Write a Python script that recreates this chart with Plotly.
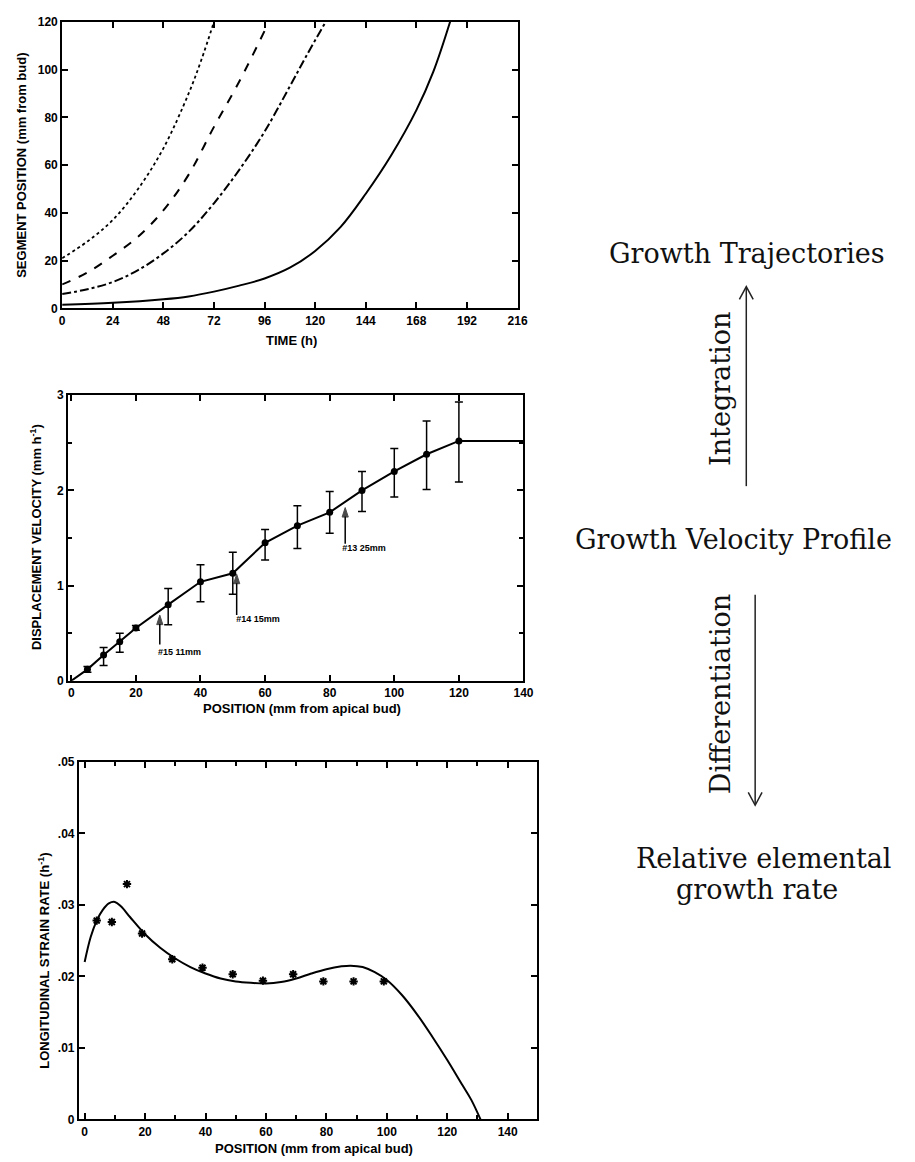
import plotly.graph_objects as go

W, H = 915, 1162

# ---------------- data ----------------
# Top: growth trajectories (segment position vs time)
traj_solid_t = [0, 24, 48, 60, 72, 84, 96, 108, 120, 132, 144, 156, 168, 176, 184]
traj_solid_y = [1.5, 2.3, 3.8, 5, 7, 9.5, 12.5, 17, 24, 34, 48, 64, 83, 99, 120]
traj_dashdot_t = [0, 12, 24, 36, 48, 60, 72, 84, 96, 108, 116, 125]
traj_dashdot_y = [6, 8, 11, 16, 23, 32, 44, 58, 74, 93, 106, 120]
traj_dash_t = [0, 12, 24, 36, 48, 60, 72, 84, 97]
traj_dash_y = [10, 15, 22, 30, 41, 56, 76, 95, 118]
traj_dot_t = [0, 12, 24, 36, 48, 60, 66, 72]
traj_dot_y = [21, 28, 37, 50, 67, 90, 104, 120]
time_ticks = [0, 24, 48, 72, 96, 120, 144, 168, 192, 216]
pos_ticks = [0, 20, 40, 60, 80, 100, 120]

# Middle: displacement velocity profile
vel_x = [5, 10, 15, 20, 30, 40, 50, 60, 70, 80, 90, 100, 110, 120]
vel_y = [0.12, 0.27, 0.41, 0.555, 0.80, 1.04, 1.13, 1.45, 1.63, 1.77, 2.00, 2.20, 2.38, 2.52]
vel_hi = [0.15, 0.35, 0.50, 0.58, 0.97, 1.22, 1.35, 1.59, 1.84, 1.99, 2.20, 2.44, 2.73, 2.93]
vel_lo = [0.09, 0.16, 0.30, 0.53, 0.59, 0.83, 0.91, 1.27, 1.39, 1.55, 1.78, 1.93, 2.01, 2.09]
vel_start = (0, 0)
vel_end_x = 140
vel_plateau = 2.52
node_labels = ["#15 11mm", "#14 15mm", "#13 25mm"]
node_x = [27.4, 51.2, 84.8]
node_tip = [0.69, 1.12, 1.82]
node_tail = [0.38, 0.69, 1.44]
node_label_x = [33.5, 57.8, 90.6]
node_label_y = [0.29, 0.64, 1.39]

# Bottom: relative elemental growth rate
strain_curve_x = [0, 2, 4, 6, 8, 10, 12, 15, 20, 25, 30, 35, 40, 45, 50, 55, 60, 65, 70,
                  75, 80, 85, 88, 92, 96, 100, 105, 110, 115, 120, 125, 128, 131]
strain_curve_y = [0.022, 0.0255, 0.0278, 0.0293, 0.0302, 0.0304, 0.0298, 0.0283, 0.0259,
                  0.0240, 0.0225, 0.0213, 0.0204, 0.0197, 0.0193, 0.0191, 0.0190, 0.0192,
                  0.0197, 0.0204, 0.0210, 0.0214, 0.0215, 0.0213, 0.0206, 0.0195, 0.0174,
                  0.0147, 0.0116, 0.0083, 0.0048, 0.0027, 0.0]
strain_pts_x = [4, 9, 14, 19, 29, 39, 49, 59, 69, 79, 89, 99]
strain_pts_y = [0.0278, 0.0276, 0.0329, 0.0260, 0.0224, 0.0212, 0.0203, 0.0194, 0.0203,
                0.0193, 0.0193, 0.0193]
strain_ticks = [0, 0.01, 0.02, 0.03, 0.04, 0.05]
strain_ticktext = ["0", ".01", ".02", ".03", ".04", ".05"]
position_ticks = [0, 20, 40, 60, 80, 100, 120, 140]

# ---------------- helpers ----------------
def px(x):
    return x / W

def py(y):
    return 1 - y / H

tickfont = dict(family="Liberation Sans", size=12, color="black", weight="bold")
titlefont = dict(family="Liberation Sans", size=13, color="black", weight="bold")

def axis(**kw):
    d = dict(showline=True, linecolor="black", linewidth=2, mirror="ticks",
             ticks="inside", ticklen=6, tickwidth=1.5, tickcolor="black",
             showgrid=False, zeroline=False, tickfont=tickfont, fixedrange=True)
    d.update(kw)
    return d

fig = go.Figure()

# Top traces
line_style = dict(color="black", width=2)
fig.add_trace(go.Scatter(x=traj_dot_t, y=traj_dot_y, mode="lines", line_shape="spline",
                         line=dict(color="black", width=1.8, dash="dot"), xaxis="x", yaxis="y"))
fig.add_trace(go.Scatter(x=traj_dash_t, y=traj_dash_y, mode="lines", line_shape="spline",
                         line=dict(color="black", width=2, dash="dash"), xaxis="x", yaxis="y"))
fig.add_trace(go.Scatter(x=traj_dashdot_t, y=traj_dashdot_y, mode="lines", line_shape="spline",
                         line=dict(color="black", width=2, dash="dashdot"), xaxis="x", yaxis="y"))
fig.add_trace(go.Scatter(x=traj_solid_t, y=traj_solid_y, mode="lines", line_shape="spline",
                         line=line_style, xaxis="x", yaxis="y"))

# Middle traces
fig.add_trace(go.Scatter(x=[vel_start[0]] + vel_x + [vel_end_x],
                         y=[vel_start[1]] + vel_y + [vel_plateau],
                         mode="lines", line=line_style, xaxis="x2", yaxis="y2"))
fig.add_trace(go.Scatter(x=vel_x, y=vel_y, mode="markers",
                         marker=dict(color="black", size=7),
                         error_y=dict(type="data", symmetric=False,
                                      array=[h - v for h, v in zip(vel_hi, vel_y)],
                                      arrayminus=[v - l for v, l in zip(vel_y, vel_lo)],
                                      color="black", thickness=1.5, width=4),
                         xaxis="x2", yaxis="y2"))
# node arrows (line + arrowhead marker at tip)
for nx, tip, tail in zip(node_x, node_tip, node_tail):
    fig.add_trace(go.Scatter(x=[nx, nx], y=[tail, tip], mode="lines+markers",
                             line=dict(color="black", width=1.5),
                             marker=dict(symbol=["circle", "arrow"], size=[0, 10],
                                         angleref="previous", color="black",
                                         line=dict(color="black", width=1)),
                             xaxis="x2", yaxis="y2"))
fig.add_trace(go.Scatter(x=node_label_x, y=node_label_y, mode="text", text=node_labels,
                         textfont=dict(family="Liberation Sans", size=9, color="black",
                                       weight="bold"),
                         xaxis="x2", yaxis="y2"))

# Bottom traces
fig.add_trace(go.Scatter(x=strain_curve_x, y=strain_curve_y, mode="lines", line_shape="spline",
                         line=line_style, xaxis="x3", yaxis="y3"))
fig.add_trace(go.Scatter(x=strain_pts_x, y=strain_pts_y, mode="markers",
                         marker=dict(symbol="asterisk", size=7, color="black",
                                     line=dict(color="black", width=2)),
                         xaxis="x3", yaxis="y3"))

annotations = []
# axis titles
annotations += [
    dict(text="SEGMENT POSITION (mm from bud)", x=px(18), y=py(160), textangle=-90),
    dict(text="TIME (h)", x=px(293), y=py(338)),
    dict(text="DISPLACEMENT VELOCITY (mm h<sup>-1</sup>)", x=px(33), y=py(537), textangle=-90),
    dict(text="POSITION (mm from apical bud)", x=px(303), y=py(710)),
    dict(text="LONGITUDINAL STRAIN RATE (h<sup>-1</sup>)", x=px(42), y=py(965), textangle=-90),
    dict(text="POSITION (mm from apical bud)", x=px(315), y=py(1155)),
]
for a in annotations:
    a.update(xref="paper", yref="paper", showarrow=False, font=titlefont,
             xanchor="center", yanchor="middle")

# right-hand schematic text
serif = dict(family="DejaVu Serif", size=27, color="#111")
right_text = [
    ("Growth Trajectories", 755, 250, 0),
    ("Integration", 728, 387, -90),
    ("Growth Velocity Profile", 741, 539, 0),
    ("Differentiation", 728, 696, -90),
    ("Relative elemental", 772, 862, 0),
    ("growth rate", 765, 893, 0),
]
for t, x, y, ang in right_text:
    annotations.append(dict(text=t, x=px(x), y=py(y), xref="paper", yref="paper",
                            showarrow=False, font=serif, textangle=ang,
                            xanchor="center", yanchor="middle"))

shapes = []
# up arrow (Integration)
shapes.append(dict(type="line", xref="paper", yref="paper", x0=px(754), x1=px(754),
                   y0=py(485), y1=py(284), line=dict(color="#222", width=1.5)))
shapes.append(dict(type="path", xref="paper", yref="paper",
                   path=f"M {px(747)} {py(296)} L {px(754)} {py(283)} L {px(761)} {py(296)}",
                   line=dict(color="#222", width=1.5)))
# down arrow (Differentiation)
shapes.append(dict(type="line", xref="paper", yref="paper", x0=px(763), x1=px(763),
                   y0=py(595), y1=py(807), line=dict(color="#222", width=1.5)))
shapes.append(dict(type="path", xref="paper", yref="paper",
                   path=f"M {px(756)} {py(795)} L {px(763)} {py(808)} L {px(770)} {py(795)}",
                   line=dict(color="#222", width=1.5)))

fig.update_layout(
    width=W, height=H, autosize=False,
    margin=dict(l=0, r=0, t=0, b=0),
    paper_bgcolor="white", plot_bgcolor="white",
    showlegend=False,
    xaxis=axis(domain=[px(60), px(522)], range=[0, 216], tickvals=time_ticks, anchor="y"),
    yaxis=axis(domain=[py(305), py(15)], range=[0, 120], tickvals=pos_ticks, anchor="x"),
    xaxis2=axis(domain=[px(66), px(528)], range=[-1, 140], tickvals=position_ticks,
                anchor="y2", ticklabelstandoff=0),
    yaxis2=axis(domain=[py(682), py(393)], range=[0, 3], tickvals=[0, 1, 2, 3], anchor="x2",
                minor=dict(dtick=0.5, ticks="inside", ticklen=4, tickcolor="black")),
    xaxis3=axis(domain=[px(77), px(542)], range=[-1.9, 149.8], tickvals=position_ticks,
                anchor="y3",
                minor=dict(dtick=10, tick0=0, ticks="inside", ticklen=4, tickcolor="black")),
    yaxis3=axis(domain=[py(1126), py(764)], range=[0, 0.05], tickvals=strain_ticks,
                ticktext=strain_ticktext, anchor="x3"),
    annotations=annotations,
    shapes=shapes,
)

fig.write_html("out.html")
